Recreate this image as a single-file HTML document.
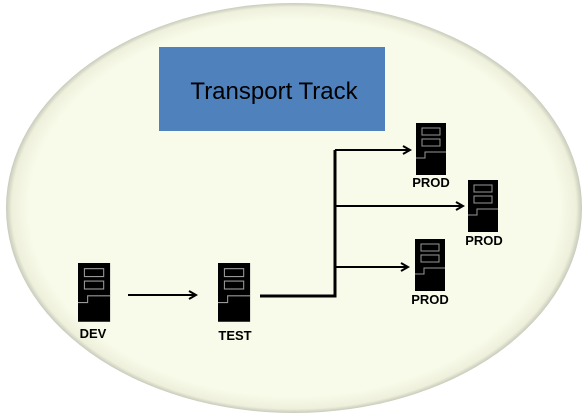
<!DOCTYPE html>
<html><head><style>
body{margin:0;width:585px;height:415px;background:#fff;overflow:hidden;font-family:"Liberation Sans",sans-serif}
</style></head><body>
<svg width="585" height="415" xmlns="http://www.w3.org/2000/svg">
<defs>
<radialGradient id="g" cx="50%" cy="50%" r="50%">
<stop offset="0.92" stop-color="#f8fbe9"/>
<stop offset="0.98" stop-color="#eef0dc"/>
<stop offset="1" stop-color="#c8cabb"/>
</radialGradient>
<marker id="a" markerWidth="10" markerHeight="10" refX="8" refY="5" orient="auto" markerUnits="userSpaceOnUse">
<path d="M1,1 L8,5 L1,9" fill="none" stroke="#000" stroke-width="2"/>
</marker>
<g id="s">
<rect x="0" y="0" width="30" height="52" fill="#000"/>
<rect x="6" y="5" width="18" height="7" fill="none" stroke="#999" stroke-width="1"/>
<rect x="6" y="16" width="18" height="7" fill="none" stroke="#999" stroke-width="1"/>
<path d="M0,35 H9 V29 H30" fill="none" stroke="#999" stroke-width="1"/>
</g>
</defs>
<ellipse cx="294" cy="208" rx="288" ry="205" fill="url(#g)"/>
<rect x="159" y="47" width="226" height="84" fill="#4f81bd"/>
<text x="274" y="99" text-anchor="middle" font-size="24" fill="#000">Transport Track</text>
<use href="#s" transform="translate(78,263) scale(1.07,1.13)"/>
<use href="#s" transform="translate(218,263) scale(1.07,1.13)"/>
<use href="#s" transform="translate(416,123)"/>
<use href="#s" transform="translate(468,180)"/>
<use href="#s" transform="translate(415,239)"/>
<g font-weight="bold" font-size="13" text-anchor="middle" fill="#000">
<text x="93" y="338">DEV</text>
<text x="235" y="340">TEST</text>
<text x="431" y="187">PROD</text>
<text x="484" y="245">PROD</text>
<text x="430" y="304">PROD</text>
</g>
<g stroke="#000" fill="none">
<line x1="128" y1="295" x2="196" y2="295" stroke-width="2" marker-end="url(#a)"/>
<path d="M260,296 H335 V150" stroke-width="3"/>
<line x1="335" y1="150" x2="410" y2="150" stroke-width="2" marker-end="url(#a)"/>
<line x1="335" y1="206" x2="463" y2="206" stroke-width="2" marker-end="url(#a)"/>
<line x1="335" y1="267" x2="408" y2="267" stroke-width="2" marker-end="url(#a)"/>
</g>
</svg>
</body></html>
